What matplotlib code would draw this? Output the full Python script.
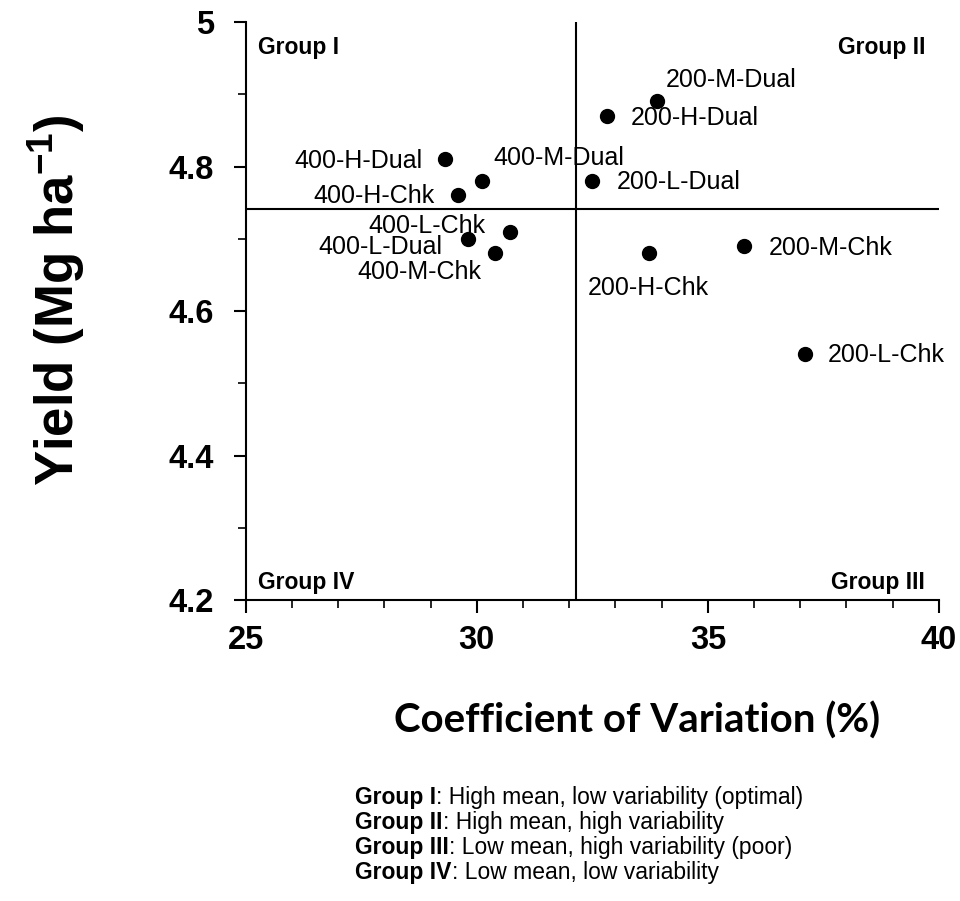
import numpy as np
import matplotlib.pyplot as plt

# CV (%) and yield (Mg/ha) per treatment
names = ['400-H-Dual', '400-M-Dual', '400-H-Chk', '400-L-Chk', '400-L-Dual', '400-M-Chk',
         '200-M-Dual', '200-H-Dual', '200-L-Dual', '200-H-Chk', '200-M-Chk', '200-L-Chk']
cv = [29.31, 30.11, 29.60, 30.71, 29.80, 30.39,
      33.89, 32.82, 32.50, 33.72, 35.79, 37.10]
yld = [4.81, 4.78, 4.76, 4.71, 4.70, 4.68,
       4.89, 4.87, 4.78, 4.68, 4.69, 4.54]

# label offsets in pixels (dx, dy, ha)
offs = [(-22, -2, 'right'), (11, 23, 'left'), (-24, -1, 'right'), (-24, 6, 'right'),
        (-25, -8, 'right'), (-13, -19, 'right'),
        (9, 21, 'left'), (24, -2, 'left'), (24, -1, 'left'), (0, -35, 'center'),
        (24, -2, 'left'), (23, -1, 'left')]

groups = ['Group I', 'Group II', 'Group III', 'Group IV']
group_desc = [': High mean, low variability (optimal)', ': High mean, high variability',
              ': Low mean, high variability (poor)', ': Low mean, low variability']

plt.rcParams['font.family'] = ['Liberation Sans', 'DejaVu Sans']
plt.rcParams['mathtext.fontset'] = 'custom'
plt.rcParams['mathtext.rm'] = 'Liberation Sans'
plt.rcParams['mathtext.bf'] = 'Liberation Sans:bold'

fig = plt.figure(figsize=(9.6, 9.01), dpi=100)
ax = fig.add_axes([0.256, 0.334, 0.722, 0.6416])

ax.plot(cv, yld, 'o', color='black', markersize=10)
for n, x, y, o in zip(names, cv, yld, offs):
    ax.annotate(n, (x, y), xytext=(o[0], o[1]), textcoords='offset pixels',
                ha=o[2], va='center', fontsize=18)

ax.axvline(np.mean(cv), color='black', lw=1.5)
ax.axhline(np.mean(yld), color='black', lw=1.5)

ax.set_xlim(25, 40)
ax.set_ylim(4.2, 5.0)
ax.set_xticks([25, 30, 35, 40])
ax.set_xticks(np.arange(25, 41, 1), minor=True)
ax.set_yticks([4.2, 4.4, 4.6, 4.8, 5.0])
ax.set_yticklabels(['4.2', '4.4', '4.6', '4.8', '5'])
ax.set_yticks(np.arange(4.2, 5.01, 0.1), minor=True)
ax.tick_params(which='major', length=9, width=1.5, labelsize=23.5)
ax.tick_params(axis='x', which='major', pad=9)
ax.tick_params(axis='y', which='major', pad=14)
ax.tick_params(which='minor', length=6, width=1.2)
for lab in ax.get_xticklabels() + ax.get_yticklabels():
    lab.set_fontweight('bold')
ax.spines['top'].set_visible(False)
ax.spines['right'].set_visible(False)
ax.spines['left'].set_linewidth(1.5)
ax.spines['bottom'].set_linewidth(1.5)

gk = dict(fontsize=16.5, fontweight='bold', transform=ax.transAxes)
ax.text(0.018, 0.955, 'Group I', ha='left', va='center', **gk)
ax.text(0.98, 0.955, 'Group II', ha='right', va='center', **gk)
ax.text(0.98, 0.03, 'Group III', ha='right', va='center', **gk)
ax.text(0.018, 0.03, 'Group IV', ha='left', va='center', **gk)

fig.text(0.059, 0.667, 'Yield (Mg ha$^{\\mathbf{-1}}$)', rotation=90, ha='center', va='center',
         fontsize=38, fontweight='bold')
fig.text(0.664, 0.2, 'Coefficient of Variation (%)', ha='center', va='center',
         fontsize=29, fontweight='bold', family='Lato')

for i, (g, d) in enumerate(zip(groups, group_desc)):
    yy = (901 - 798 - i * 25 + 0.3) / 901
    t = fig.text(0.37, yy, g, fontsize=16.5, fontweight='bold', ha='left', va='center')
    ax.annotate(d, xy=(1, 0.5), xycoords=t, ha='left', va='center', fontsize=16.5,
                annotation_clip=False)

fig.savefig('out.png', dpi=100)
